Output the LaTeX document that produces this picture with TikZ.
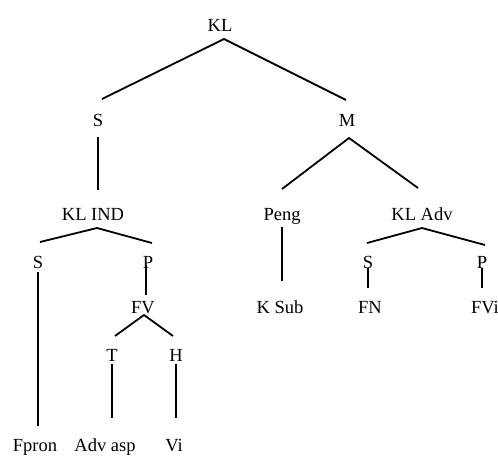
\documentclass[tikz,border=0pt]{standalone}
\usepackage{fontspec}
\setmainfont{Liberation Serif}
\usetikzlibrary{calc}
\begin{document}
\begin{tikzpicture}[x=1pt,y=-1pt,
  lab/.style={inner sep=0pt,font=\fontsize{18.5}{22}\selectfont,text height=16pt,text depth=0pt},
  edge/.style={line width=1.8pt}]
\useasboundingbox (0,0) rectangle (498,456);
\node[lab] (KL) at (220,23) {KL};
\node[lab] (S1) at (98,118) {S};
\node[lab] (M) at (347,118) {M};
\node[lab] (KLIND) at (93,212) {KL IND};
\node[lab] (Peng) at (282,212) {Peng};
\node[lab] (KLAdv) at (422,212) {KL Adv};
\node[lab] (S2) at (38,260) {S};
\node[lab] (P1) at (148,260) {P};
\node[lab] (S3) at (368,260) {S};
\node[lab] (P2) at (482,260) {P};
\node[lab] (FV) at (143,305) {FV};
\node[lab] (KSub) at (280,305) {K Sub};
\node[lab] (FN) at (370,305) {FN};
\node[lab] (FVi) at (485,305) {FVi};
\node[lab] (T) at (112,353) {T};
\node[lab] (H) at (176,353) {H};
\node[lab] (Fpron) at (35,443) {Fpron};
\node[lab] (Advasp) at (105,443) {Adv asp};
\node[lab] (Vi) at (174,443) {Vi};
% connectors
\draw[edge] ($(S1)+(4,-19)$) -- ($(KL)+(4,16)$) -- ($(M)+(-1,-18)$);
\draw[edge] ($(S1)+(0,19)$) -- ($(KLIND)+(5,-22)$);
\draw[edge] ($(Peng)+(0,-23)$) -- ($(M)+(2,20)$) -- ($(KLAdv)+(-4,-24)$);
\draw[edge] ($(S2)+(2,-18)$) -- ($(KLIND)+(4,16)$) -- ($(P1)+(4,-17)$);
\draw[edge] ($(Peng)+(0,15)$) -- ($(KSub)+(2,-24)$);
\draw[edge] ($(S3)+(-1,-17)$) -- ($(KLAdv)+(0,16)$) -- ($(P2)+(3,-15)$);
\draw[edge] ($(S2)+(0,12)$) -- ($(Fpron)+(3,-17)$);
\draw[edge] ($(P1)+(-2,5)$) -- ($(FV)+(3,-10)$);
\draw[edge] ($(T)+(3,-17)$) -- ($(FV)+(1,10)$) -- ($(H)+(-3,-17)$);
\draw[edge] ($(T)+(0,11)$) -- ($(Advasp)+(7,-25)$);
\draw[edge] ($(H)+(0,11)$) -- ($(Vi)+(2,-25)$);
\draw[edge] ($(S3)+(0,8)$) -- ($(FN)+(-2,-17)$);
\draw[edge] ($(P2)+(0,8)$) -- ($(FVi)+(-3,-17)$);
\end{tikzpicture}
\end{document}
